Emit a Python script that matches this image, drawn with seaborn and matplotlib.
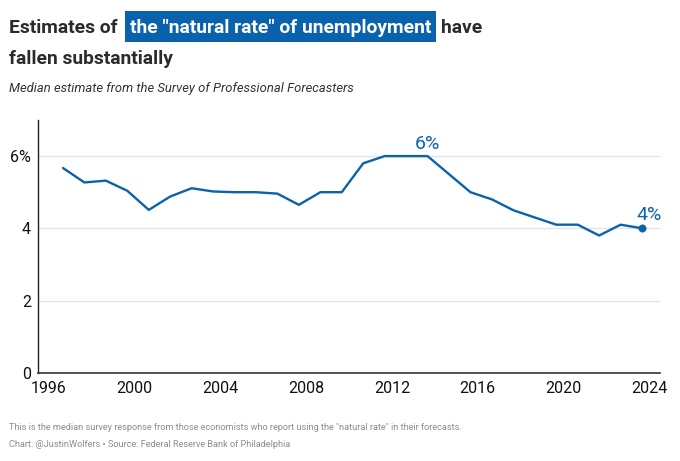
import matplotlib
matplotlib.use("Agg")
import matplotlib.pyplot as plt
from matplotlib.patches import Rectangle
import seaborn as sns
import pandas as pd

# ---- data ----
years = list(range(1996, 2024))
nairu = [5.67, 5.27, 5.32, 5.04, 4.51, 4.88, 5.11, 5.02, 5.0, 5.0, 4.96, 4.65, 5.0, 5.0,
         5.8, 6.0, 6.0, 6.0, 5.5, 5.0, 4.8, 4.5, 4.3, 4.1, 4.1, 3.8, 4.1, 4.0]
survey_date = "08-31"  # Q3 survey each year
x_ticks = [1996, 2000, 2004, 2008, 2012, 2016, 2020, 2024]
y_ticks = [0, 2, 4, 6]
y_tick_labels = ["0", "2", "4", "6%"]
peak_label = "6%"
last_label = "4%"

title_pre = "Estimates of"
title_hl = 'the "natural rate" of unemployment'
title_post = "have"
title_line2 = "fallen substantially"
subtitle = "Median estimate from the Survey of Professional Forecasters"
note1 = 'This is the median survey response from those economists who report using the "natural rate" in their forecasts.'
note2 = "Chart: @JustinWolfers \u2022 Source: Federal Reserve Bank of Philadelphia"

dates = pd.to_datetime([f"{y}-{survey_date}" for y in years])
frac = [d.year + (d.dayofyear - 1) / 365.0 for d in dates]
df = pd.DataFrame({"x": frac, "rate": nairu})

BLUE = "#0b62ac"
W, H = 680, 461

sns.set_theme(style="white")
plt.rcParams["font.family"] = ["Roboto", "DejaVu Sans"]

fig = plt.figure(figsize=(W / 100, H / 100), dpi=100)
ax = fig.add_axes([38 / W, 1 - 372.7 / H, (660 - 38) / W, (372.7 - 120) / H])

sns.lineplot(data=df, x="x", y="rate", ax=ax, color=BLUE, linewidth=1.7)
last = df.iloc[[-1]]
sns.scatterplot(data=last, x="x", y="rate", ax=ax, color=BLUE, s=28, edgecolor=BLUE, zorder=5)

ax.set_xlim(1995.5, 2024.5)
ax.set_ylim(0, 7)
ax.set_xticks(x_ticks)
ax.set_xticklabels([str(t) for t in x_ticks], fontsize=11.5, color="#111111")
ax.set_yticks(y_ticks)
ax.set_yticklabels(y_tick_labels, fontsize=11.5, color="#111111")
ax.tick_params(axis="x", length=0, pad=6)
ax.tick_params(axis="y", length=0, pad=5)
ax.set_xlabel("")
ax.set_ylabel("")
for yv in y_ticks[1:]:
    ax.axhline(yv, color="#e4e4e4", linewidth=0.9, zorder=0)
for s in ["top", "right"]:
    ax.spines[s].set_visible(False)
ax.spines["left"].set_color("#222222")
ax.spines["bottom"].set_color("#333333")
ax.spines["left"].set_linewidth(1.0)
ax.spines["bottom"].set_linewidth(1.2)

# annotations
ipk = nairu.index(6.0) + 2
ax.annotate(peak_label, (df["x"][ipk], nairu[ipk]), xytext=(0, 2), textcoords="offset points",
            ha="center", va="bottom", color=BLUE, fontsize=14)
ax.annotate(last_label, (df["x"].iloc[-1], nairu[-1]), xytext=(5, 3), textcoords="offset points",
            ha="center", va="bottom", color=BLUE, fontsize=14)

# title with highlight
fig.canvas.draw()
r = fig.canvas.get_renderer()
tsize = 13.9
TC = "#2b2b2b"
base1 = 1 - 33 / H
t1 = fig.text(9 / W, base1, title_pre, fontsize=tsize, fontweight="bold", color=TC,
              va="baseline", ha="left")
e1 = t1.get_window_extent(r)
hx = e1.x1 + 12
t2 = fig.text(hx / W, base1, title_hl, fontsize=tsize, fontweight="bold", color="white",
              va="baseline", ha="left", zorder=3)
e2 = t2.get_window_extent(r)
fig.patches.append(Rectangle(((hx - 5) / W, 1 - 42 / H), (e2.x1 - hx + 10) / W, 31 / H,
                             transform=fig.transFigure, facecolor=BLUE, edgecolor="none", zorder=2))
fig.text((e2.x1 + 10) / W, base1, title_post, fontsize=tsize, fontweight="bold", color=TC,
         va="baseline", ha="left")
fig.text(9 / W, 1 - 64 / H, title_line2, fontsize=tsize, fontweight="bold", color=TC,
         va="baseline", ha="left")
fig.text(9 / W, 1 - 92 / H, subtitle, fontsize=9.4, style="italic", color="#333333",
         va="baseline", ha="left")
fig.text(9 / W, 1 - 430 / H, note1, fontsize=6.6, color="#8c8c8c", va="baseline", ha="left")
fig.text(9 / W, 1 - 447 / H, note2, fontsize=6.6, color="#8c8c8c", va="baseline", ha="left")

fig.savefig("out.png", dpi=100)
